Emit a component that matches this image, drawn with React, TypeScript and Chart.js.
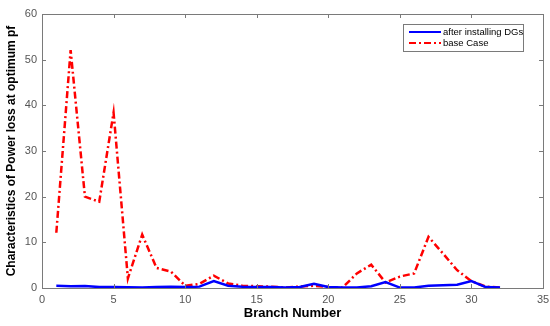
import React, { useEffect, useRef } from "react";
import { Chart, registerables } from "chart.js";

Chart.register(...registerables);

const branches = [1,2,3,4,5,6,7,8,9,10,11,12,13,14,15,16,17,18,19,20,21,22,23,24,25,26,27,28,29,30,31,32];
const afterDG = [0.5,0.4,0.45,0.2,0.2,0.15,0.1,0.2,0.3,0.2,0.3,1.5,0.5,0.3,0.2,0.2,0.1,0.2,0.9,0.2,0.1,0.1,0.4,1.3,0.1,0.1,0.5,0.6,0.7,1.5,0.2,0.1];
const baseCase = [12.1,52.1,20.0,18.9,38.4,2.1,11.7,4.4,3.6,0.5,0.9,2.7,1.0,0.5,0.4,0.3,0.1,0.3,0.5,0.2,0.1,3.2,5.1,1.2,2.5,3.2,11.2,7.6,3.9,1.5,0.3,0.1];
const xTicks = [0,5,10,15,20,25,30,35];
const yTicks = [0,10,20,30,40,50,60];
const seriesNames = ["after installing DGs", "base Case"];

const boxPlugin = {
  id: "boxPlugin",
  afterDraw(chart: any) {
    const { ctx, chartArea: a, scales } = chart;
    ctx.save();
    ctx.strokeStyle = "#7a7a7a";
    ctx.lineWidth = 1;
    ctx.strokeRect(a.left + 0.5, a.top + 0.5, a.right - a.left, a.bottom - a.top);
    const tl = 4;
    ctx.beginPath();
    xTicks.forEach((v) => {
      const x = Math.round(scales.x.getPixelForValue(v)) + 0.5;
      ctx.moveTo(x, a.bottom); ctx.lineTo(x, a.bottom - tl);
      ctx.moveTo(x, a.top); ctx.lineTo(x, a.top + tl);
    });
    yTicks.forEach((v) => {
      const y = Math.round(scales.y.getPixelForValue(v)) + 0.5;
      ctx.moveTo(a.left, y); ctx.lineTo(a.left + tl, y);
      ctx.moveTo(a.right, y); ctx.lineTo(a.right - tl, y);
    });
    ctx.stroke();

    // legend
    const lx = 403, ly = 24, lw = 120, lh = 27;
    ctx.fillStyle = "#fff";
    ctx.fillRect(lx, ly, lw, lh);
    ctx.strokeStyle = "#7a7a7a";
    ctx.strokeRect(lx + 0.5, ly + 0.5, lw, lh);
    chart.data.datasets.forEach((ds: any, i: number) => {
      const y = ly + 8 + i * 11;
      ctx.strokeStyle = ds.borderColor;
      ctx.lineWidth = 2;
      ctx.setLineDash(ds.borderDash || []);
      ctx.beginPath();
      ctx.moveTo(lx + 6, y); ctx.lineTo(lx + 38, y);
      ctx.stroke();
      ctx.setLineDash([]);
      ctx.fillStyle = "#000";
      ctx.font = "9.5px Arial, 'Liberation Sans', sans-serif";
      ctx.textBaseline = "middle";
      ctx.textAlign = "left";
      ctx.fillText(ds.label, lx + 40, y);
    });
    ctx.restore();
  },
};

export default function App() {
  const ref = useRef<HTMLCanvasElement>(null);
  useEffect(() => {
    document.body.style.margin = "0";
    const chart = new Chart(ref.current!, {
      type: "line",
      data: {
        datasets: [
          {
            label: seriesNames[0],
            data: branches.map((b, i) => ({ x: b, y: afterDG[i] })),
            borderColor: "#0000ff",
            borderWidth: 2.5,
            pointRadius: 0,
            tension: 0,
          },
          {
            label: seriesNames[1],
            data: branches.map((b, i) => ({ x: b, y: baseCase[i] })),
            borderColor: "#ff0000",
            borderWidth: 2.5,
            borderDash: [7, 3, 2, 3],
            pointRadius: 0,
            tension: 0,
          },
        ],
      },
      options: {
        animation: false,
        responsive: false,
        layout: { padding: { top: 14, right: 7, left: 0, bottom: 0 } },
        plugins: { legend: { display: false }, tooltip: { enabled: false } },
        scales: {
          x: {
            type: "linear",
            min: 0,
            max: 35,
            afterBuildTicks: (s: any) => { s.ticks = xTicks.map((v) => ({ value: v })); },
            afterFit: (s: any) => { s.height = 38; s.paddingLeft = 0; s.paddingRight = 0; },
            grid: { display: false, drawTicks: false },
            border: { display: false },
            ticks: { color: "#555", font: { size: 11, family: "Arial, 'Liberation Sans', sans-serif" }, padding: 5, maxRotation: 0 },
            title: {
              display: true,
              text: "Branch Number",
              color: "#000",
              font: { size: 13, weight: "bold", family: "Arial, 'Liberation Sans', sans-serif" },
              padding: { top: 0, bottom: 5 },
            },
          },
          y: {
            min: 0,
            max: 60,
            afterBuildTicks: (s: any) => { s.ticks = yTicks.map((v) => ({ value: v })); },
            afterFit: (s: any) => { s.width = 42; s.paddingTop = 0; s.paddingBottom = 0; },
            grid: { display: false, drawTicks: false },
            border: { display: false },
            ticks: { color: "#555", font: { size: 11, family: "Arial, 'Liberation Sans', sans-serif" }, padding: 5 },
            title: {
              display: true,
              text: "Characteristics of Power loss at optimum pf",
              color: "#000",
              font: { size: 12, weight: "bold", family: "Arial, 'Liberation Sans', sans-serif" },
              padding: { top: 4, bottom: 0 },
            },
          },
        },
      },
      plugins: [boxPlugin],
    } as any);
    return () => chart.destroy();
  }, []);
  return (
    <div style={{ position: "absolute", left: 0, top: 0, width: 550, height: 326 }}>
      <canvas ref={ref} width={550} height={326} style={{ width: 550, height: 326 }} />
    </div>
  );
}
